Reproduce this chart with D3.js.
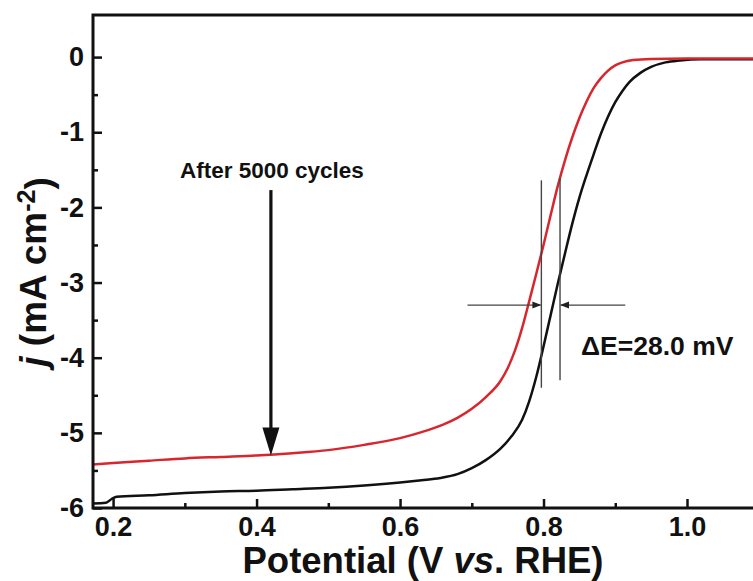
<!DOCTYPE html>
<html><head><meta charset="utf-8">
<script src="https://cdn.jsdelivr.net/npm/d3@7"></script>
<style>
body{margin:0;background:#fff}
svg{display:block}
text{font-family:"Liberation Sans",Arial,Helvetica,sans-serif;font-weight:bold;fill:#111}
</style>
</head><body>
<svg id="chart" width="753" height="581"></svg>
<script>
// ---- data ----
const potentialRed = [0.172,0.20,0.25,0.30,0.35,0.40,0.45,0.50,0.55,0.60,0.63,0.66,0.68,0.70,0.72,0.74,0.75,0.76,0.77,0.78,0.79,0.80,0.81,0.82,0.83,0.84,0.85,0.86,0.87,0.88,0.89,0.90,0.91,0.925,0.95,1.0,1.092];
const currentRed   = [-5.42,-5.40,-5.37,-5.34,-5.32,-5.30,-5.27,-5.23,-5.16,-5.07,-4.99,-4.89,-4.80,-4.68,-4.52,-4.31,-4.14,-3.91,-3.61,-3.25,-2.88,-2.50,-2.10,-1.71,-1.37,-1.07,-0.81,-0.59,-0.41,-0.28,-0.18,-0.11,-0.07,-0.04,-0.025,-0.02,-0.02];
const potentialBlack = [0.172,0.19,0.198,0.205,0.25,0.30,0.35,0.40,0.45,0.50,0.55,0.60,0.63,0.656,0.68,0.70,0.72,0.74,0.755,0.77,0.78,0.79,0.80,0.81,0.82,0.83,0.84,0.85,0.86,0.87,0.88,0.89,0.90,0.91,0.92,0.935,0.95,0.97,0.99,1.02,1.092];
const currentBlack   = [-5.94,-5.93,-5.88,-5.85,-5.83,-5.80,-5.78,-5.77,-5.75,-5.73,-5.70,-5.66,-5.63,-5.60,-5.55,-5.47,-5.36,-5.21,-5.05,-4.83,-4.58,-4.25,-3.85,-3.43,-3.01,-2.61,-2.22,-1.87,-1.57,-1.29,-1.02,-0.79,-0.60,-0.45,-0.33,-0.21,-0.13,-0.07,-0.045,-0.03,-0.03];
const xTicks = [0.2,0.4,0.6,0.8,1.0];
const xTickLabels = ["0.2","0.4","0.6","0.8","1.0"];
const xMinorTicks = [0.3,0.5,0.7,0.9];
const yTicks = [0,-1,-2,-3,-4,-5,-6];
const yTickLabels = ["0","-1","-2","-3","-4","-5","-6"];
const yMinorTicks = [-0.5,-1.5,-2.5,-3.5,-4.5,-5.5];
const halfWavePotentials = [0.797,0.823];      // vertical marker lines
const markerSpan = [[-1.64,-4.40],[-1.61,-4.30]];
const markerCurrent = -3.30;                   // horizontal arrows level
const arrowOuter = [0.694,0.914];
const cyclesArrow = {potential:0.42, from:-1.77, to:-5.30};
const annotationText = "After 5000 cycles";
const deltaText = "\u0394E=28.0 mV";

// ---- layout ----
const L = 93, R = 753, T = 15, B = 508;
const svg = d3.select("#chart");
const x = d3.scaleLinear().domain([0.172,1.092]).range([L,R]);
const y = d3.scaleLinear().domain([-6,0.56]).range([B,T]);

svg.append("defs").append("clipPath").attr("id","plotClip")
  .append("rect").attr("x",L).attr("y",T).attr("width",R-L).attr("height",B-T);

// curves
const line = d3.line().x(d=>x(d[0])).y(d=>y(d[1])).curve(d3.curveMonotoneX);
const g = svg.append("g").attr("clip-path","url(#plotClip)");
g.append("path").datum(d3.zip(potentialBlack,currentBlack))
  .attr("d",line).attr("fill","none").attr("stroke","#111").attr("stroke-width",2.5);
g.append("path").datum(d3.zip(potentialRed,currentRed))
  .attr("d",line).attr("fill","none").attr("stroke","#d8262e").attr("stroke-width",2.5);

// axes (inward ticks)
const xAxis = d3.axisBottom(x).tickValues(xTicks).tickFormat((d,i)=>xTickLabels[i])
  .tickSizeInner(-9).tickSizeOuter(0).tickPadding(9);
const gx = svg.append("g").attr("transform",`translate(0,${B})`).call(xAxis);
const xMinor = d3.axisBottom(x).tickValues(xMinorTicks).tickFormat("").tickSizeInner(-5).tickSizeOuter(0);
const gxm = svg.append("g").attr("transform",`translate(0,${B})`).call(xMinor);
const yAxis = d3.axisLeft(y).tickValues(yTicks).tickFormat((d,i)=>yTickLabels[i])
  .tickSizeInner(-9).tickSizeOuter(0).tickPadding(9);
const gy = svg.append("g").attr("transform",`translate(${L},0)`).call(yAxis);
const yMinor = d3.axisLeft(y).tickValues(yMinorTicks).tickFormat("").tickSizeInner(-5).tickSizeOuter(0);
const gym = svg.append("g").attr("transform",`translate(${L},0)`).call(yMinor);
[gx,gxm,gy,gym].forEach(a=>{
  a.select(".domain").remove();
  a.selectAll(".tick line").attr("stroke","#111").attr("stroke-width",2.5);
  a.selectAll(".tick text").style("font-size","27px").attr("fill","#111");
});

// frame (top, left, bottom)
svg.append("path")
  .attr("d",`M${R+2},${T} H${L} V${B} H${R+2}`)
  .attr("fill","none").attr("stroke","#111").attr("stroke-width",3);

// axis titles
svg.append("text").attr("x",(L+R)/2).attr("y",573).attr("text-anchor","middle")
  .style("font-size","36.5px")
  .call(t=>{t.append("tspan").text("Potential (V ");
            t.append("tspan").attr("font-style","italic").text("vs");
            t.append("tspan").text(". RHE)");});
const yl = svg.append("text").attr("transform","translate(46,272) rotate(-90)")
  .attr("text-anchor","middle").style("font-size","37px");
yl.append("tspan").attr("font-style","italic").text("j");
yl.append("tspan").text(" (mA cm");
yl.append("tspan").attr("dy","-0.45em").style("font-size","25px").text("-2");
yl.append("tspan").attr("dy","0.45em").text(")");

// ΔE markers
const ann = svg.append("g").attr("stroke","#444").attr("stroke-width",1.4);
halfWavePotentials.forEach((p,i)=>{
  ann.append("line").attr("x1",x(p)).attr("x2",x(p))
    .attr("y1",y(markerSpan[i][0])).attr("y2",y(markerSpan[i][1]));
});
const ym = y(markerCurrent);
ann.append("line").attr("x1",x(arrowOuter[0])).attr("x2",x(halfWavePotentials[0])-1).attr("y1",ym).attr("y2",ym);
ann.append("line").attr("x1",x(arrowOuter[1])).attr("x2",x(halfWavePotentials[1])+1).attr("y1",ym).attr("y2",ym);
const hx0 = x(halfWavePotentials[0]), hx1 = x(halfWavePotentials[1]);
svg.append("path").attr("d",`M${hx0},${ym} l-9,-3.5 v7 Z`).attr("fill","#222");
svg.append("path").attr("d",`M${hx1},${ym} l9,-3.5 v7 Z`).attr("fill","#222");
svg.append("text").attr("x",581).attr("y",355).style("font-size","26.5px").text(deltaText);

// "After 5000 cycles" arrow
const ax = x(cyclesArrow.potential), ay0 = y(cyclesArrow.from), ay1 = y(cyclesArrow.to);
svg.append("line").attr("x1",ax).attr("x2",ax).attr("y1",ay0).attr("y2",ay1-20)
  .attr("stroke","#111").attr("stroke-width",3.2);
svg.append("path").attr("d",`M${ax},${ay1} L${ax-8.5},${ay1-28} L${ax+8.5},${ay1-28} Z`).attr("fill","#111");
svg.append("text").attr("x",ax+1).attr("y",178).attr("text-anchor","middle")
  .style("font-size","22.5px").text(annotationText);
</script>
</body></html>
